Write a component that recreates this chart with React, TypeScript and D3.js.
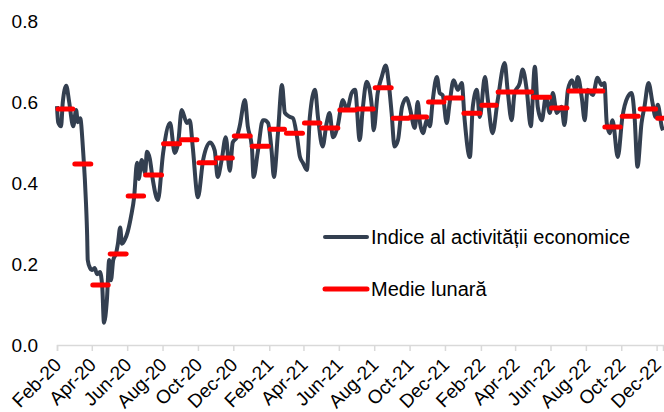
import React, { useEffect, useRef } from 'react';
import * as d3 from 'd3';

// daily activity index (date, value)
const index2020: [string, number][] = [
  ['2020-02-01', 0.59], ['2020-02-03', 0.55], ['2020-02-08', 0.54], ['2020-02-11', 0.6], ['2020-02-17', 0.64],
  ['2020-02-22', 0.6], ['2020-02-29', 0.54], ['2020-03-05', 0.58], ['2020-03-08', 0.55], ['2020-03-12', 0.56],
  ['2020-03-17', 0.48], ['2020-03-20', 0.41], ['2020-03-22', 0.35], ['2020-03-24', 0.27], ['2020-03-25', 0.21],
  ['2020-03-29', 0.19], ['2020-04-01', 0.185], ['2020-04-06', 0.19], ['2020-04-10', 0.175], ['2020-04-15', 0.18],
  ['2020-04-19', 0.145], ['2020-04-22', 0.055], ['2020-04-27', 0.11], ['2020-05-01', 0.21], ['2020-05-04', 0.16],
  ['2020-05-08', 0.21], ['2020-05-13', 0.227], ['2020-05-16', 0.25], ['2020-05-20', 0.29], ['2020-05-23', 0.25],
  ['2020-05-28', 0.26], ['2020-06-02', 0.28], ['2020-06-08', 0.32], ['2020-06-13', 0.365], ['2020-06-18', 0.45],
  ['2020-06-21', 0.41], ['2020-06-26', 0.457], ['2020-07-02', 0.425], ['2020-07-05', 0.477], ['2020-07-10', 0.46],
  ['2020-07-15', 0.41], ['2020-07-24', 0.358], ['2020-08-02', 0.474], ['2020-08-14', 0.548], ['2020-08-22', 0.474],
  ['2020-08-28', 0.5], ['2020-09-03', 0.58], ['2020-09-12', 0.548], ['2020-09-17', 0.555], ['2020-09-22', 0.49],
  ['2020-10-01', 0.365], ['2020-10-10', 0.457], ['2020-10-22', 0.5], ['2020-10-30', 0.48], ['2020-11-04', 0.415],
  ['2020-11-11', 0.457], ['2020-11-18', 0.513], ['2020-11-25', 0.43], ['2020-11-30', 0.5], ['2020-12-07', 0.513],
  ['2020-12-12', 0.54], ['2020-12-21', 0.605], ['2020-12-26', 0.54],
];

const index2021: [string, number][] = [
  ['2021-01-02', 0.49], ['2021-01-05', 0.415], ['2021-01-12', 0.474], ['2021-01-21', 0.555], ['2021-01-24', 0.555],
  ['2021-01-30', 0.548], ['2021-02-05', 0.48], ['2021-02-09', 0.415], ['2021-02-16', 0.523], ['2021-02-23', 0.642],
  ['2021-02-28', 0.573], ['2021-03-09', 0.563], ['2021-03-14', 0.56], ['2021-03-21', 0.513], ['2021-03-26', 0.464],
  ['2021-03-31', 0.45], ['2021-04-07', 0.432], ['2021-04-12', 0.563], ['2021-04-21', 0.63], ['2021-04-26', 0.563],
  ['2021-05-04', 0.49], ['2021-05-11', 0.548], ['2021-05-16', 0.573], ['2021-05-22', 0.513], ['2021-05-30', 0.54],
  ['2021-06-08', 0.605], ['2021-06-15', 0.58], ['2021-06-23', 0.622], ['2021-06-29', 0.63], ['2021-07-07', 0.506],
  ['2021-07-12', 0.58], ['2021-07-19', 0.65], ['2021-07-28', 0.588], ['2021-07-31', 0.53], ['2021-08-07', 0.622],
  ['2021-08-14', 0.662], ['2021-08-21', 0.69], ['2021-08-26', 0.647], ['2021-08-31', 0.573], ['2021-09-05', 0.49],
  ['2021-09-11', 0.506], ['2021-09-18', 0.588], ['2021-09-26', 0.61], ['2021-10-01', 0.588], ['2021-10-10', 0.536],
  ['2021-10-15', 0.6], ['2021-10-19', 0.548], ['2021-10-24', 0.523], ['2021-10-31', 0.555], ['2021-11-05', 0.54],
  ['2021-11-10', 0.605], ['2021-11-17', 0.662], ['2021-11-22', 0.622], ['2021-11-27', 0.617], ['2021-12-04', 0.548],
  ['2021-12-09', 0.597], ['2021-12-16', 0.654], ['2021-12-23', 0.63], ['2021-12-30', 0.647],
];

const index2022: [string, number][] = [
  ['2022-01-04', 0.555], ['2022-01-13', 0.464], ['2022-01-18', 0.588], ['2022-01-25', 0.63], ['2022-01-30', 0.563],
  ['2022-02-08', 0.662], ['2022-02-13', 0.605], ['2022-02-21', 0.523], ['2022-03-02', 0.605], ['2022-03-14', 0.696],
  ['2022-03-19', 0.63], ['2022-03-26', 0.555], ['2022-03-31', 0.622], ['2022-04-09', 0.647], ['2022-04-14', 0.68],
  ['2022-04-21', 0.63], ['2022-04-28', 0.54], ['2022-05-05', 0.687], ['2022-05-10', 0.588], ['2022-05-17', 0.555],
  ['2022-05-24', 0.612], ['2022-05-31', 0.573], ['2022-06-05', 0.622], ['2022-06-12', 0.573], ['2022-06-20', 0.588],
  ['2022-06-25', 0.543], ['2022-07-01', 0.63], ['2022-07-08', 0.654], ['2022-07-14', 0.63], ['2022-07-18', 0.662],
  ['2022-07-25', 0.61], ['2022-07-30', 0.555], ['2022-08-04', 0.63], ['2022-08-13', 0.617], ['2022-08-21', 0.66],
  ['2022-08-28', 0.642], ['2022-09-02', 0.647], ['2022-09-06', 0.548], ['2022-09-11', 0.523], ['2022-09-16', 0.555],
  ['2022-09-25', 0.464], ['2022-10-03', 0.563], ['2022-10-12', 0.612], ['2022-10-19', 0.622], ['2022-10-24', 0.563],
  ['2022-10-29', 0.44], ['2022-11-05', 0.548], ['2022-11-10', 0.588], ['2022-11-17', 0.647], ['2022-11-24', 0.597],
  ['2022-11-29', 0.563], ['2022-12-03', 0.593], ['2022-12-10', 0.538], ['2022-12-12', 0.53],
];

// monthly means, Feb 2020 .. Dec 2022
const months = [
  '2020-02', '2020-03', '2020-04', '2020-05', '2020-06', '2020-07', '2020-08', '2020-09', '2020-10', '2020-11', '2020-12',
  '2021-01', '2021-02', '2021-03', '2021-04', '2021-05', '2021-06', '2021-07', '2021-08', '2021-09', '2021-10', '2021-11', '2021-12',
  '2022-01', '2022-02', '2022-03', '2022-04', '2022-05', '2022-06', '2022-07', '2022-08', '2022-09', '2022-10', '2022-11', '2022-12',
];
const monthlyMeans = [
  0.583, 0.447, 0.148, 0.225, 0.368, 0.42, 0.497, 0.507, 0.45, 0.462, 0.516,
  0.491, 0.533, 0.523, 0.548, 0.536, 0.58, 0.583, 0.635, 0.56, 0.563, 0.6, 0.61,
  0.572, 0.592, 0.625, 0.625, 0.612, 0.585, 0.627, 0.627, 0.538, 0.565, 0.583, 0.56,
];

const yTicks = [0, 0.2, 0.4, 0.6, 0.8];
const legendLabels = ['Indice al activității economice', 'Medie lunară'];

const FONT = "Arial, 'Liberation Sans', sans-serif";
const LINE_COLOR = '#333f50';
const MEAN_COLOR = '#ff0000';

const App: React.FC = () => {
  const svgRef = useRef<SVGSVGElement | null>(null);

  useEffect(() => {
    if (!svgRef.current) return;
    const svg = d3.select(svgRef.current);
    svg.selectAll('*').remove();

    const parse = d3.timeParse('%Y-%m-%d');
    const parseMonth = d3.timeParse('%Y-%m');
    const series = [...index2020, ...index2021, ...index2022].map(([d, v]) => ({ date: parse(d) as Date, value: v }));

    const start = parse('2020-02-01') as Date;
    const end = parse('2022-12-12') as Date;

    const x = d3.scaleTime().domain([start, end]).range([57, 663]);
    const y = d3.scaleLinear().domain([0, 0.8]).range([345, 21]);

    // y labels (no axis line)
    svg
      .append('g')
      .selectAll('text')
      .data(yTicks)
      .enter()
      .append('text')
      .attr('x', 38)
      .attr('y', (d) => y(d))
      .attr('dy', '0.35em')
      .attr('text-anchor', 'end')
      .attr('font-family', FONT)
      .attr('font-size', 19)
      .attr('fill', '#000')
      .text((d) => d3.format('.1f')(d));

    // x axis: a tick every second month, starting Feb-20
    const xTicks = d3.timeMonth.range(start, d3.timeDay.offset(end, 1), 2);
    const xAxis = d3
      .axisBottom(x)
      .tickValues(xTicks)
      .tickSize(6)
      .tickFormat((d) => d3.timeFormat('%b-%y')(d as Date));

    const gx = svg.append('g').attr('transform', 'translate(0,345)').call(xAxis);
    gx.select('.domain').attr('stroke', '#d9d9d9').attr('stroke-width', 1.5);
    gx.selectAll('.tick line').attr('stroke', '#d9d9d9').attr('stroke-width', 1.5);
    gx.selectAll('.tick text')
      .attr('font-family', FONT)
      .attr('font-size', 19)
      .attr('fill', '#000')
      .attr('text-anchor', 'end')
      .attr('transform', 'translate(5,21) rotate(-45)')
      .attr('x', 0)
      .attr('y', 0)
      .attr('dy', 0);

    // daily line
    const line = d3
      .line<{ date: Date; value: number }>()
      .curve(d3.curveMonotoneX)
      .x((d) => x(d.date))
      .y((d) => y(d.value));

    svg
      .append('path')
      .datum(series)
      .attr('fill', 'none')
      .attr('stroke', LINE_COLOR)
      .attr('stroke-width', 4)
      .attr('stroke-linejoin', 'round')
      .attr('d', line);

    // monthly mean segments
    svg
      .append('g')
      .selectAll('line')
      .data(months.map((m, i) => ({ month: parseMonth(m) as Date, value: monthlyMeans[i] })))
      .enter()
      .append('line')
      .attr('x1', (d) => x(d.month) + 1)
      .attr('x2', (d) => Math.min(x(d3.timeMonth.offset(d.month, 1)) - 1, 663))
      .attr('y1', (d) => y(d.value))
      .attr('y2', (d) => y(d.value))
      .attr('stroke', MEAN_COLOR)
      .attr('stroke-width', 5)
      .attr('stroke-linecap', 'round');

    // legend
    const legend = svg.append('g');
    const legendY = [237, 289];
    legendLabels.forEach((label, i) => {
      legend
        .append('line')
        .attr('x1', 325)
        .attr('x2', 367)
        .attr('y1', legendY[i])
        .attr('y2', legendY[i])
        .attr('stroke', i === 0 ? LINE_COLOR : MEAN_COLOR)
        .attr('stroke-width', i === 0 ? 4 : 5)
        .attr('stroke-linecap', 'round');
      legend
        .append('text')
        .attr('x', 371)
        .attr('y', legendY[i])
        .attr('dy', '0.35em')
        .attr('font-family', FONT)
        .attr('font-size', 20)
        .attr('fill', '#000')
        .text(label);
    });
  }, []);

  return (
    <svg
      ref={svgRef}
      width={664}
      height={412}
      style={{ position: 'absolute', left: 0, top: 0, background: '#fff' }}
    />
  );
};

export default App;
